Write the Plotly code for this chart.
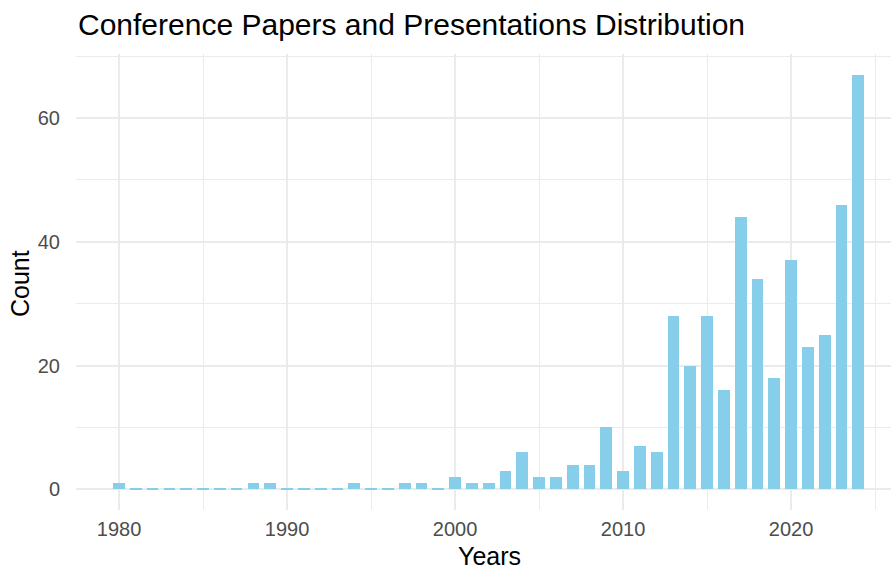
import plotly.graph_objects as go

years = list(range(1980, 2025))
counts = [1, 0, 0, 0, 0, 0, 0, 0, 1, 1,
          0, 0, 0, 0, 1, 0, 0, 1, 1, 0,
          2, 1, 1, 3, 6, 2, 2, 4, 4, 10,
          3, 7, 6, 28, 20, 28, 16, 44, 34, 18,
          37, 23, 25, 46, 67]

title_text = "Conference Papers and Presentations Distribution"
x_title = "Years"
y_title = "Count"
x_ticks = [1980, 1990, 2000, 2010, 2020]
y_ticks = [0, 20, 40, 60]

bar_color = "#87CEEB"
grid = "#EBEBEB"
font_family = "Liberation Sans, Arial, sans-serif"

nonzero_x = [y for y, c in zip(years, counts) if c > 0]
nonzero_y = [c for c in counts if c > 0]
zero_x = [y for y, c in zip(years, counts) if c == 0]

fig = go.Figure()
fig.add_trace(go.Bar(x=nonzero_x, y=nonzero_y, width=0.7,
                     marker=dict(color=bar_color, line=dict(width=0)),
                     showlegend=False))
# zero-count years are rendered as a hairline at 0 (as ggplot does)
fig.add_trace(go.Bar(x=zero_x, y=[0.18] * len(zero_x), base=[-0.09] * len(zero_x),
                     width=0.7, marker=dict(color=bar_color, line=dict(width=0)),
                     showlegend=False, hoverinfo="skip"))

fig.update_layout(
    width=891, height=568,
    margin=dict(l=76, r=0, t=54, b=58, autoexpand=False),
    paper_bgcolor="white", plot_bgcolor="white",
    font=dict(family=font_family, color="#000000"),
    bargap=0,
    annotations=[
        dict(text=title_text, xref="paper", yref="paper", x=0, y=1,
             xanchor="left", yanchor="middle", yshift=29.5, showarrow=False,
             font=dict(size=30, color="#000000", family=font_family)),
        dict(text=x_title, xref="paper", yref="paper", x=0.5, y=0,
             xanchor="center", yanchor="middle", yshift=-45.5, xshift=5.5, showarrow=False,
             font=dict(size=25, color="#000000", family=font_family)),
        dict(text=y_title, xref="paper", yref="paper", x=0, y=0.5,
             xanchor="center", yanchor="middle", xshift=-56, yshift=-2,
             textangle=-90, showarrow=False,
             font=dict(size=25, color="#000000", family=font_family)),
    ],
)
fig.update_xaxes(
    range=[1977.44, 2025.95], automargin=False,
    tickvals=x_ticks, ticktext=[str(v) for v in x_ticks],
    showgrid=True, gridcolor=grid, gridwidth=1.8,
    minor=dict(dtick=5, tick0=1975, showgrid=True, gridcolor=grid, gridwidth=0.9),
    zeroline=False, showline=False,
    ticks="outside", ticklen=1, tickcolor="rgba(0,0,0,0)",
    tickfont=dict(size=20, color="#4D4D4D"),
)
fig.update_yaxes(
    range=[-3.35, 70.35], automargin=False,
    tickvals=y_ticks,
    showgrid=True, gridcolor=grid, gridwidth=1.8,
    minor=dict(tickvals=[10, 30, 50, 70], showgrid=True, gridcolor=grid, gridwidth=0.9),
    zeroline=False, showline=False,
    ticks="outside", ticklen=11, tickcolor="rgba(0,0,0,0)",
    tickfont=dict(size=20, color="#4D4D4D"),
)

fig.write_html("out.html", config={"displayModeBar": False},
               post_script="document.body.style.margin='0px';document.body.style.overflow='hidden';")
